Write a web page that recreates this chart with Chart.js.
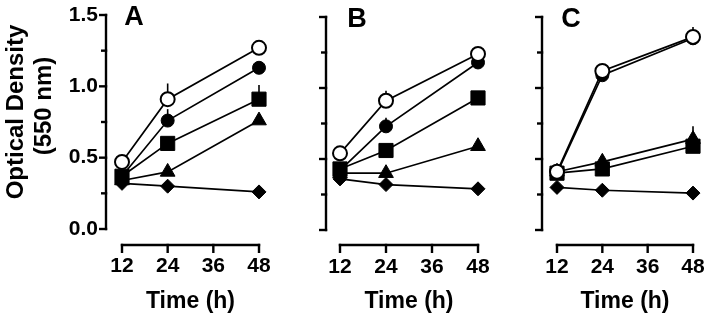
<!DOCTYPE html>
<html>
<head>
<meta charset="utf-8">
<script src="https://cdn.jsdelivr.net/npm/chart.js@4.4.1/dist/chart.umd.min.js"></script>
<style>
  html, body { margin: 0; padding: 0; background: #fff; }
  body { width: 720px; height: 315px; position: relative; overflow: hidden; }
  canvas { position: absolute; top: 0; }
</style>
</head>
<body>
<canvas id="panelA" width="280" height="315" style="left:0px"></canvas>
<canvas id="panelB" width="220" height="315" style="left:280px"></canvas>
<canvas id="panelC" width="220" height="315" style="left:500px"></canvas>
<script>
// time points (h) and axis ticks
var hours = [12, 24, 48];
var xTickStep = 12;
var yMin = 0, yMax = 1.5, yMinorStep = 0.25, yLabelStep = 0.5;

// panel A  (open circle, filled circle, square, triangle, diamond)
var openA     = [0.47, 0.91, 1.27];
var filledA   = [0.37, 0.76, 1.13];
var squareA   = [0.37, 0.60, 0.91];
var triangleA = [0.34, 0.40, 0.76];
var diamondA  = [0.32, 0.30, 0.26];
var openErrA     = [0, 0.11, 0.03];
var filledErrA   = [0, 0.08, 0];
var squareErrA   = [0, 0, 0.10];
var triangleErrA = [0, 0, 0];
var diamondErrA  = [0, 0, 0];

// panel B
var openB     = [0.54, 0.91, 1.24];
var filledB   = [0.42, 0.73, 1.18];
var squareB   = [0.43, 0.56, 0.93];
var triangleB = [0.40, 0.40, 0.59];
var diamondB  = [0.36, 0.32, 0.29];
var openErrB     = [0, 0.07, 0];
var filledErrB   = [0, 0.06, 0];
var squareErrB   = [0, 0, 0];
var triangleErrB = [0, 0, 0];
var diamondErrB  = [0, 0, 0];

// panel C
var openC     = [0.41, 1.12, 1.36];
var filledC   = [0.40, 1.09, 1.35];
var squareC   = [0.40, 0.43, 0.59];
var triangleC = [0.41, 0.48, 0.64];
var diamondC  = [0.30, 0.28, 0.26];
var openErrC     = [0, 0, 0.07];
var filledErrC   = [0, 0, 0];
var squareErrC   = [0, 0, 0];
var triangleErrC = [0, 0.04, 0.09];
var diamondErrC  = [0, 0, 0];

var FONT = "'Liberation Sans', Arial, sans-serif";
Chart.defaults.font.family = FONT;
Chart.defaults.font.weight = 'bold';
Chart.defaults.color = '#000';

var markers = [
  { pointStyle: 'circle',   radius: 7,   bg: '#fff', bw: 2 },
  { pointStyle: 'circle',   radius: 6.5, bg: '#000', bw: 1 },
  { pointStyle: 'rect',     radius: 10,  bg: '#000', bw: 1 },
  { pointStyle: 'triangle', radius: 8.5, bg: '#000', bw: 1 },
  { pointStyle: 'rectRot',  radius: 7,   bg: '#000', bw: 1 }
];

function toPoints(vals) {
  return vals.map(function(v, i) { return { x: hours[i], y: v }; });
}

// axis lines are drawn detached from the plot area, like the figure
var axesPlugin = {
  id: 'axesPlugin',
  beforeDatasetsDraw: function(chart) {
    var ctx = chart.ctx, xs = chart.scales.x, ys = chart.scales.y;
    var o = chart.options.plugins.axesPlugin;
    var ax = chart.chartArea.left - o.yGap;
    var ay = chart.chartArea.bottom + o.xGap;
    ctx.save();
    ctx.strokeStyle = '#000';
    ctx.lineWidth = 2.4;
    ctx.lineCap = 'butt';
    // y axis
    ctx.beginPath();
    ctx.moveTo(ax, ys.getPixelForValue(yMax) - 1.2);
    ctx.lineTo(ax, ys.getPixelForValue(yMin) + 1.2);
    ctx.stroke();
    ys.ticks.forEach(function(t) {
      var py = ys.getPixelForValue(t.value);
      var len = (Math.abs(t.value / yLabelStep - Math.round(t.value / yLabelStep)) < 1e-6) ? 7 : 5;
      ctx.beginPath();
      ctx.moveTo(ax + 1.2, py);
      ctx.lineTo(ax - len, py);
      ctx.stroke();
    });
    // x axis
    ctx.beginPath();
    ctx.moveTo(xs.getPixelForValue(hours[0]) - 1.2, ay);
    ctx.lineTo(xs.getPixelForValue(hours[hours.length - 1]) + 1.2, ay);
    ctx.stroke();
    xs.ticks.forEach(function(t) {
      var px = xs.getPixelForValue(t.value);
      ctx.beginPath();
      ctx.moveTo(px, ay - 1.2);
      ctx.lineTo(px, ay + 8);
      ctx.stroke();
    });
    // error bars (upper half)
    ctx.lineWidth = 1.6;
    chart.data.datasets.forEach(function(ds) {
      ds.errors.forEach(function(e, i) {
        if (!e) return;
        var px = xs.getPixelForValue(ds.data[i].x);
        ctx.beginPath();
        ctx.moveTo(px, ys.getPixelForValue(ds.data[i].y));
        ctx.lineTo(px, ys.getPixelForValue(ds.data[i].y + e));
        ctx.stroke();
      });
    });
    ctx.restore();
  },
  afterDraw: function(chart) {
    var ctx = chart.ctx, o = chart.options.plugins.axesPlugin;
    ctx.save();
    ctx.fillStyle = '#000';
    ctx.textAlign = 'center';
    ctx.textBaseline = 'middle';
    ctx.font = 'bold 27px ' + FONT;
    ctx.fillText(o.letter, o.letterX, o.letterY);
    if (o.yTitle) {
      ctx.font = 'bold 24px ' + FONT;
      o.yTitle.forEach(function(line, i) {
        ctx.save();
        ctx.translate(o.yTitleX[i], o.yTitleY[i]);
        ctx.rotate(-Math.PI / 2);
        ctx.fillText(line, 0, 0);
        ctx.restore();
      });
    }
    ctx.restore();
  }
};

function makePanel(id, series, errors, geo) {
  var datasets = series.map(function(vals, k) {
    var m = markers[k];
    return {
      data: toPoints(vals),
      errors: errors[k],
      borderColor: '#000',
      borderWidth: 1.7,
      pointStyle: m.pointStyle,
      pointRadius: m.radius,
      pointHoverRadius: m.radius,
      pointBackgroundColor: m.bg,
      pointBorderColor: '#000',
      pointBorderWidth: m.bw,
      tension: 0,
      clip: false
    };
  });
  return new Chart(document.getElementById(id), {
    type: 'line',
    data: { datasets: datasets },
    options: {
      responsive: false,
      animation: false,
      layout: { autoPadding: false, padding: { left: 0, right: geo.padRight, top: geo.top, bottom: 0 } },
      plugins: {
        legend: { display: false },
        tooltip: { enabled: false },
        axesPlugin: geo.plugin
      },
      scales: {
        x: {
          type: 'linear',
          min: hours[0], max: hours[hours.length - 1],
          grid: { display: false, drawTicks: false },
          border: { display: false },
          ticks: { stepSize: xTickStep, autoSkip: false, maxRotation: 0, padding: 25, font: { size: 21, weight: 'bold' } },
          title: { display: true, text: 'Time (h)', padding: { top: 0, bottom: 0 }, font: { size: 23, weight: 'bold' } },
          afterFit: function(s) { s.height = geo.xHeight; s.paddingLeft = 0; s.paddingRight = 0; }
        },
        y: {
          min: yMin, max: yMax,
          grid: { display: false, drawTicks: false },
          border: { display: false },
          ticks: {
            display: geo.yLabels,
            stepSize: yMinorStep,
            autoSkip: false,
            padding: 24,
            font: { size: 21, weight: 'bold' },
            callback: function(v) {
              return Math.abs(v / yLabelStep - Math.round(v / yLabelStep)) < 1e-6 ? v.toFixed(1) : '';
            }
          },
          afterFit: function(s) { s.width = geo.yWidth; s.paddingTop = 0; s.paddingBottom = 0; }
        }
      }
    },
    plugins: [axesPlugin]
  });
}

makePanel('panelA',
  [openA, filledA, squareA, triangleA, diamondA],
  [openErrA, filledErrA, squareErrA, triangleErrA, diamondErrA],
  { padRight: 21, top: 15, xHeight: 86, yWidth: 122, yLabels: true,
    plugin: { yGap: 16, xGap: 16, letter: 'A', letterX: 134, letterY: 18,
              yTitle: ['Optical Density', '(550 nm)'], yTitleX: [16, 44], yTitleY: [112, 106] } });

makePanel('panelB',
  [openB, filledB, squareB, triangleB, diamondB],
  [openErrB, filledErrB, squareErrB, triangleErrB, diamondErrB],
  { padRight: 22, top: 17, xHeight: 85, yWidth: 60, yLabels: false,
    plugin: { yGap: 14, xGap: 15, letter: 'B', letterX: 77, letterY: 20 } });

makePanel('panelC',
  [openC, filledC, squareC, triangleC, diamondC],
  [openErrC, filledErrC, squareErrC, triangleErrC, diamondErrC],
  { padRight: 27, top: 17, xHeight: 85, yWidth: 57, yLabels: false,
    plugin: { yGap: 15, xGap: 15, letter: 'C', letterX: 71, letterY: 20 } });
</script>
</body>
</html>
